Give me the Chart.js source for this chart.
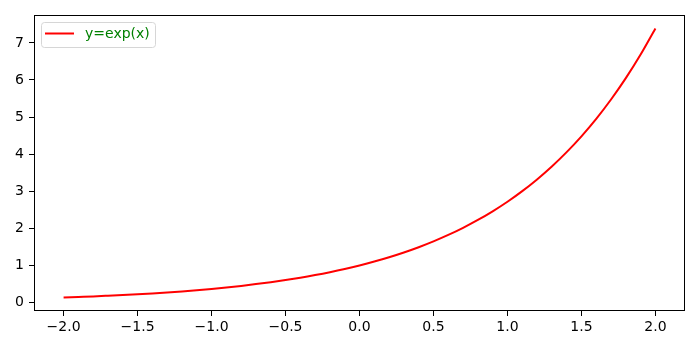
<!DOCTYPE html>
<html>
<head>
<meta charset="utf-8">
<script src="https://cdn.jsdelivr.net/npm/chart.js@4"></script>
<style>
  html, body { margin: 0; padding: 0; background: #fff; }
  #wrap { width: 700px; height: 350px; }
</style>
</head>
<body>
<div id="wrap"><canvas id="chart" width="700" height="350"></canvas></div>
<script>
const seriesLabel = 'y=exp(x)';
const xValues = [-2.0, -1.9, -1.8, -1.7, -1.6, -1.5, -1.4, -1.3, -1.2, -1.1,
                 -1.0, -0.9, -0.8, -0.7, -0.6, -0.5, -0.4, -0.3, -0.2, -0.1,
                 0.0, 0.1, 0.2, 0.3, 0.4, 0.5, 0.6, 0.7, 0.8, 0.9,
                 1.0, 1.1, 1.2, 1.3, 1.4, 1.5, 1.6, 1.7, 1.8, 1.9, 2.0];
const yValues = [0.135, 0.150, 0.165, 0.183, 0.202, 0.223, 0.247, 0.273, 0.301, 0.333,
                 0.368, 0.407, 0.449, 0.497, 0.549, 0.607, 0.670, 0.741, 0.819, 0.905,
                 1.000, 1.105, 1.221, 1.350, 1.492, 1.649, 1.822, 2.014, 2.226, 2.460,
                 2.718, 3.004, 3.320, 3.669, 4.055, 4.482, 4.953, 5.474, 6.050, 6.686, 7.389];
const xTicks = [-2.0, -1.5, -1.0, -0.5, 0.0, 0.5, 1.0, 1.5, 2.0];
const yTicks = [0, 1, 2, 3, 4, 5, 6, 7];

const FONT = 'DejaVu Sans';

// axes frame + legend box, matplotlib style
const framePlugin = {
    id: 'frame',
    afterDraw(chart) {
        const { ctx, chartArea: a } = chart;
        ctx.save();
        ctx.strokeStyle = '#000';
        ctx.lineWidth = 1;
        ctx.strokeRect(a.left + 0.5, a.top + 0.5, a.right - a.left - 1, a.bottom - a.top - 1);

        // legend
        const bx = a.left + 7, by = a.top + 7, bw = 114, bh = 25;
        ctx.beginPath();
        ctx.roundRect(bx + 0.5, by + 0.5, bw, bh, 3);
        ctx.fillStyle = 'rgba(255,255,255,0.8)';
        ctx.fill();
        ctx.strokeStyle = '#d6d6d6';
        ctx.stroke();

        const ds = chart.data.datasets[0];
        ctx.beginPath();
        ctx.moveTo(bx + 4, by + 11.5);
        ctx.lineTo(bx + 33, by + 11.5);
        ctx.strokeStyle = ds.borderColor;
        ctx.lineWidth = 2;
        ctx.stroke();

        ctx.fillStyle = 'green';
        ctx.font = '14px "' + FONT + '"';
        ctx.textBaseline = 'middle';
        ctx.fillText(ds.label, bx + 44, by + 12);
        ctx.restore();
    }
};

new Chart(document.getElementById('chart'), {
    type: 'line',
    data: {
        datasets: [{
            label: seriesLabel,
            data: xValues.map((x, i) => ({ x: x, y: yValues[i] })),
            borderColor: '#ff0000',
            borderWidth: 2,
            pointRadius: 0,
            fill: false,
            cubicInterpolationMode: 'monotone'
        }]
    },
    options: {
        responsive: false,
        animation: false,
        devicePixelRatio: 1,
        layout: { padding: { top: 15, right: 15, left: 0, bottom: 0 } },
        plugins: { legend: { display: false }, tooltip: { enabled: false } },
        scales: {
            x: {
                type: 'linear',
                min: -2.2,
                max: 2.2,
                afterBuildTicks: s => { s.ticks = xTicks.map(v => ({ value: v })); },
                afterFit: s => { s.height = 39; },
                grid: { display: true, drawOnChartArea: false, drawTicks: true, tickLength: 5, color: '#000' },
                border: { display: false },
                ticks: {
                    color: '#000',
                    padding: 3,
                    maxRotation: 0,
                    font: { family: FONT, size: 14 },
                    callback: v => v.toFixed(1).replace('-', '\u2212')
                }
            },
            y: {
                min: -0.228,
                max: 7.752,
                afterBuildTicks: s => { s.ticks = yTicks.map(v => ({ value: v })); },
                afterFit: s => { s.width = 34; },
                grid: { display: true, drawOnChartArea: false, drawTicks: true, tickLength: 5, color: '#000' },
                border: { display: false },
                ticks: {
                    color: '#000',
                    padding: 5,
                    font: { family: FONT, size: 14 },
                    callback: v => String(v)
                }
            }
        }
    },
    plugins: [framePlugin]
});
</script>
</body>
</html>
